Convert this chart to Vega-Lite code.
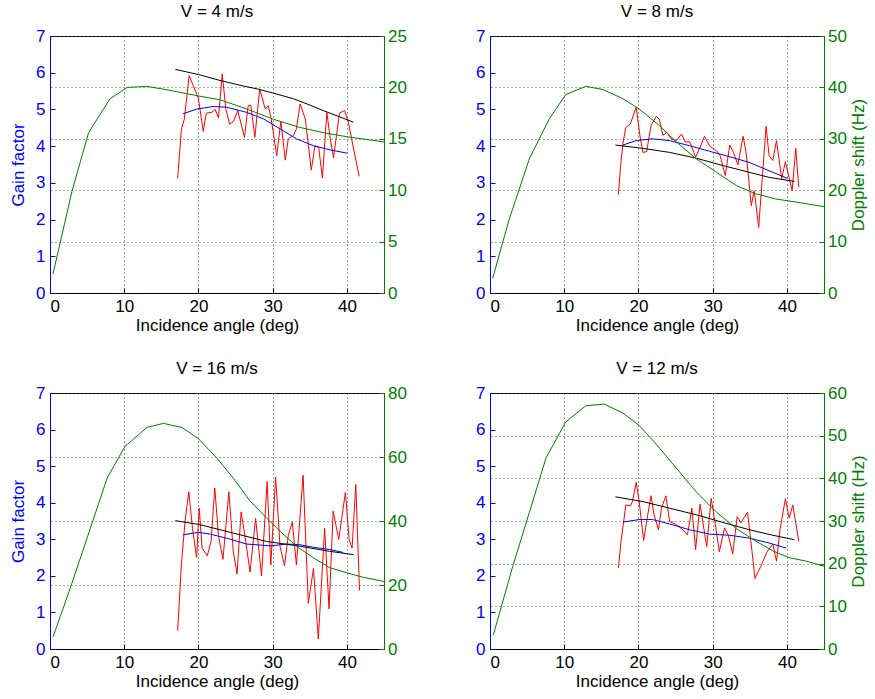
{
  "$schema": "https://vega.github.io/schema/vega-lite/v6.json",
  "padding": {"left": 9, "top": 2, "right": 5, "bottom": 5},
  "background": "white",
  "config": {
    "font": "Liberation Sans",
    "view": {"stroke": "#000000", "strokeWidth": 1},
    "axis": {"labelFontSize": 17, "titleFontSize": 17, "titleFontWeight": "normal", "labelFont": "Liberation Sans", "titleFont": "Liberation Sans"},
    "title": {"fontSize": 17, "fontWeight": "normal", "font": "Liberation Sans", "color": "#000000", "offset": 6}
  },
  "datasets": {
    "p1": [
      {"s":"meas","a":17.2,"v":3.12},{"s":"meas","a":17.7,"v":4.45},{"s":"meas","a":18.1,"v":4.74},{"s":"meas","a":18.75,"v":5.92},{"s":"meas","a":19.6,"v":5.5},{"s":"meas","a":20.0,"v":5.29},{"s":"meas","a":20.65,"v":4.4},{"s":"meas","a":21.05,"v":4.9},{"s":"meas","a":21.8,"v":4.92},{"s":"meas","a":22.25,"v":5.0},{"s":"meas","a":22.7,"v":4.77},{"s":"meas","a":23.2,"v":5.97},{"s":"meas","a":23.7,"v":5.0},{"s":"meas","a":24.2,"v":4.6},{"s":"meas","a":24.7,"v":4.67},{"s":"meas","a":25.3,"v":4.97},{"s":"meas","a":26.2,"v":4.24},{"s":"meas","a":26.7,"v":5.1},{"s":"meas","a":27.05,"v":5.12},{"s":"meas","a":27.6,"v":4.24},{"s":"meas","a":28.25,"v":5.56},{"s":"meas","a":29.0,"v":5.01},{"s":"meas","a":29.4,"v":5.1},{"s":"meas","a":29.8,"v":4.75},{"s":"meas","a":30.55,"v":3.74},{"s":"meas","a":31.1,"v":4.68},{"s":"meas","a":31.7,"v":3.62},{"s":"meas","a":32.1,"v":4.2},{"s":"meas","a":32.8,"v":4.29},{"s":"meas","a":33.2,"v":4.47},{"s":"meas","a":33.7,"v":5.15},{"s":"meas","a":34.4,"v":4.74},{"s":"meas","a":35.2,"v":3.35},{"s":"meas","a":35.7,"v":4.01},{"s":"meas","a":36.2,"v":3.97},{"s":"meas","a":36.7,"v":3.13},{"s":"meas","a":37.3,"v":4.92},{"s":"meas","a":37.7,"v":4.29},{"s":"meas","a":38.2,"v":3.68},{"s":"meas","a":39.0,"v":4.9},{"s":"meas","a":39.7,"v":4.97},{"s":"meas","a":40.2,"v":4.65},{"s":"meas","a":40.6,"v":4.24},{"s":"meas","a":41.65,"v":3.18},
      {"s":"smooth","a":17.9,"v":4.88},{"s":"smooth","a":19.8,"v":5.01},{"s":"smooth","a":22.0,"v":5.08},{"s":"smooth","a":23.8,"v":5.06},{"s":"smooth","a":26.5,"v":4.92},{"s":"smooth","a":28.8,"v":4.74},{"s":"smooth","a":31.0,"v":4.47},{"s":"smooth","a":33.2,"v":4.2},{"s":"smooth","a":35.5,"v":4.01},{"s":"smooth","a":37.7,"v":3.9},{"s":"smooth","a":40.0,"v":3.81},
      {"s":"fit","a":16.9,"v":6.09},{"s":"fit","a":20.0,"v":5.95},{"s":"fit","a":22.9,"v":5.79},{"s":"fit","a":26.0,"v":5.64},{"s":"fit","a":27.9,"v":5.56},{"s":"fit","a":30.0,"v":5.45},{"s":"fit","a":32.8,"v":5.29},{"s":"fit","a":35.0,"v":5.12},{"s":"fit","a":36.8,"v":4.97},{"s":"fit","a":39.0,"v":4.8},{"s":"fit","a":40.9,"v":4.65},
      {"s":"doppler","a":0.4,"v":1.85},{"s":"doppler","a":3.0,"v":10.0},{"s":"doppler","a":5.2,"v":15.6},{"s":"doppler","a":8.1,"v":18.9},{"s":"doppler","a":10.4,"v":20.0},{"s":"doppler","a":13.05,"v":20.1},{"s":"doppler","a":15.5,"v":19.8},{"s":"doppler","a":18.4,"v":19.4},{"s":"doppler","a":20.5,"v":19.1},{"s":"doppler","a":22.9,"v":18.8},{"s":"doppler","a":26.5,"v":17.9},{"s":"doppler","a":30.1,"v":16.9},{"s":"doppler","a":33.7,"v":16.1},{"s":"doppler","a":36.8,"v":15.6},{"s":"doppler","a":40.0,"v":15.2},{"s":"doppler","a":45.0,"v":14.7}
    ],
    "p2": [
      {"s":"meas","a":17.3,"v":2.68},{"s":"meas","a":17.6,"v":3.47},{"s":"meas","a":17.9,"v":4.06},{"s":"meas","a":18.3,"v":4.51},{"s":"meas","a":18.9,"v":4.6},{"s":"meas","a":19.7,"v":5.06},{"s":"meas","a":20.2,"v":4.29},{"s":"meas","a":20.6,"v":3.83},{"s":"meas","a":21.1,"v":3.85},{"s":"meas","a":21.7,"v":4.56},{"s":"meas","a":22.4,"v":4.81},{"s":"meas","a":22.8,"v":4.74},{"s":"meas","a":23.3,"v":4.29},{"s":"meas","a":23.8,"v":4.38},{"s":"meas","a":24.4,"v":4.2},{"s":"meas","a":25.1,"v":4.15},{"s":"meas","a":25.8,"v":4.33},{"s":"meas","a":26.3,"v":4.11},{"s":"meas","a":26.9,"v":4.12},{"s":"meas","a":27.7,"v":3.7},{"s":"meas","a":28.2,"v":3.92},{"s":"meas","a":28.9,"v":4.27},{"s":"meas","a":29.6,"v":4.0},{"s":"meas","a":30.5,"v":3.88},{"s":"meas","a":31.0,"v":3.74},{"s":"meas","a":31.7,"v":3.2},{"s":"meas","a":32.3,"v":4.03},{"s":"meas","a":32.8,"v":3.83},{"s":"meas","a":33.4,"v":3.49},{"s":"meas","a":34.1,"v":4.27},{"s":"meas","a":34.5,"v":3.83},{"s":"meas","a":35.2,"v":2.38},{"s":"meas","a":35.6,"v":2.79},{"s":"meas","a":36.2,"v":1.79},{"s":"meas","a":37.2,"v":4.54},{"s":"meas","a":37.6,"v":3.74},{"s":"meas","a":38.1,"v":3.61},{"s":"meas","a":38.6,"v":4.15},{"s":"meas","a":39.3,"v":3.11},{"s":"meas","a":39.8,"v":3.58},{"s":"meas","a":40.7,"v":2.79},{"s":"meas","a":41.2,"v":3.94},{"s":"meas","a":41.6,"v":2.88},
      {"s":"smooth","a":17.9,"v":4.03},{"s":"smooth","a":19.7,"v":4.15},{"s":"smooth","a":21.9,"v":4.2},{"s":"smooth","a":24.2,"v":4.15},{"s":"smooth","a":26.9,"v":4.01},{"s":"smooth","a":29.6,"v":3.86},{"s":"smooth","a":32.3,"v":3.71},{"s":"smooth","a":34.9,"v":3.56},{"s":"smooth","a":37.6,"v":3.33},{"s":"smooth","a":40.1,"v":3.12},
      {"s":"fit","a":16.9,"v":4.03},{"s":"fit","a":20.6,"v":3.94},{"s":"fit","a":24.2,"v":3.83},{"s":"fit","a":27.8,"v":3.67},{"s":"fit","a":31.4,"v":3.47},{"s":"fit","a":34.9,"v":3.29},{"s":"fit","a":37.6,"v":3.15},{"s":"fit","a":41.0,"v":3.04},
      {"s":"doppler","a":0.36,"v":2.86},{"s":"doppler","a":2.6,"v":14.4},{"s":"doppler","a":5.3,"v":26.1},{"s":"doppler","a":8.0,"v":33.9},{"s":"doppler","a":10.2,"v":38.6},{"s":"doppler","a":12.9,"v":40.2},{"s":"doppler","a":15.2,"v":39.6},{"s":"doppler","a":17.9,"v":37.8},{"s":"doppler","a":20.1,"v":35.8},{"s":"doppler","a":22.8,"v":32.6},{"s":"doppler","a":25.1,"v":29.4},{"s":"doppler","a":27.8,"v":26.1},{"s":"doppler","a":30.5,"v":23.5},{"s":"doppler","a":33.2,"v":20.9},{"s":"doppler","a":35.8,"v":19.3},{"s":"doppler","a":38.5,"v":18.3},{"s":"doppler","a":41.2,"v":17.7},{"s":"doppler","a":45.0,"v":16.8}
    ],
    "p3": [
      {"s":"meas","a":17.2,"v":0.5},{"s":"meas","a":17.7,"v":2.3},{"s":"meas","a":18.2,"v":3.5},{"s":"meas","a":18.7,"v":4.3},{"s":"meas","a":19.2,"v":3.3},{"s":"meas","a":19.75,"v":2.5},{"s":"meas","a":20.1,"v":3.85},{"s":"meas","a":20.5,"v":2.75},{"s":"meas","a":21.2,"v":2.55},{"s":"meas","a":21.7,"v":2.95},{"s":"meas","a":22.2,"v":4.4},{"s":"meas","a":22.7,"v":3.1},{"s":"meas","a":23.3,"v":2.45},{"s":"meas","a":24.1,"v":4.3},{"s":"meas","a":24.7,"v":2.65},{"s":"meas","a":25.2,"v":2.05},{"s":"meas","a":25.75,"v":3.75},{"s":"meas","a":26.3,"v":3.05},{"s":"meas","a":26.95,"v":2.1},{"s":"meas","a":27.7,"v":3.57},{"s":"meas","a":28.5,"v":2.0},{"s":"meas","a":29.25,"v":4.58},{"s":"meas","a":29.75,"v":2.3},{"s":"meas","a":30.4,"v":4.7},{"s":"meas","a":31.0,"v":2.8},{"s":"meas","a":31.6,"v":2.28},{"s":"meas","a":32.1,"v":3.1},{"s":"meas","a":32.65,"v":3.47},{"s":"meas","a":33.2,"v":2.3},{"s":"meas","a":34.1,"v":4.75},{"s":"meas","a":34.8,"v":1.25},{"s":"meas","a":35.5,"v":2.2},{"s":"meas","a":36.15,"v":0.27},{"s":"meas","a":37.0,"v":3.3},{"s":"meas","a":37.6,"v":1.1},{"s":"meas","a":38.15,"v":3.77},{"s":"meas","a":38.9,"v":3.0},{"s":"meas","a":39.8,"v":4.28},{"s":"meas","a":40.3,"v":3.0},{"s":"meas","a":40.7,"v":2.76},{"s":"meas","a":41.2,"v":4.5},{"s":"meas","a":41.7,"v":1.6},
      {"s":"smooth","a":17.9,"v":3.12},{"s":"smooth","a":20.0,"v":3.19},{"s":"smooth","a":21.6,"v":3.14},{"s":"smooth","a":23.8,"v":3.03},{"s":"smooth","a":26.5,"v":2.87},{"s":"smooth","a":29.7,"v":2.82},{"s":"smooth","a":31.9,"v":2.87},{"s":"smooth","a":33.7,"v":2.85},{"s":"smooth","a":35.5,"v":2.78},{"s":"smooth","a":37.7,"v":2.72},{"s":"smooth","a":39.5,"v":2.64},
      {"s":"fit","a":16.9,"v":3.51},{"s":"fit","a":20.2,"v":3.4},{"s":"fit","a":24.7,"v":3.17},{"s":"fit","a":29.2,"v":2.94},{"s":"fit","a":33.7,"v":2.81},{"s":"fit","a":37.7,"v":2.67},{"s":"fit","a":40.9,"v":2.58},
      {"s":"doppler","a":0.4,"v":3.7},{"s":"doppler","a":2.74,"v":19.1},{"s":"doppler","a":5.0,"v":34.7},{"s":"doppler","a":7.7,"v":53.4},{"s":"doppler","a":10.1,"v":63.3},{"s":"doppler","a":13.1,"v":69.3},{"s":"doppler","a":15.3,"v":70.5},{"s":"doppler","a":17.8,"v":69.2},{"s":"doppler","a":20.0,"v":65.7},{"s":"doppler","a":22.5,"v":59.6},{"s":"doppler","a":24.7,"v":53.4},{"s":"doppler","a":27.0,"v":46.1},{"s":"doppler","a":29.2,"v":40.9},{"s":"doppler","a":31.0,"v":36.8},{"s":"doppler","a":33.2,"v":32.1},{"s":"doppler","a":35.5,"v":28.5},{"s":"doppler","a":37.7,"v":25.4},{"s":"doppler","a":40.0,"v":23.8},{"s":"doppler","a":42.2,"v":22.4},{"s":"doppler","a":45.0,"v":21.1}
    ],
    "p4": [
      {"s":"meas","a":17.3,"v":2.22},{"s":"meas","a":17.65,"v":2.94},{"s":"meas","a":18.0,"v":3.47},{"s":"meas","a":18.3,"v":3.94},{"s":"meas","a":18.9,"v":3.91},{"s":"meas","a":19.2,"v":4.03},{"s":"meas","a":19.7,"v":4.56},{"s":"meas","a":20.1,"v":4.03},{"s":"meas","a":20.7,"v":2.97},{"s":"meas","a":21.25,"v":3.67},{"s":"meas","a":21.7,"v":4.19},{"s":"meas","a":22.1,"v":3.67},{"s":"meas","a":22.7,"v":3.26},{"s":"meas","a":23.1,"v":3.85},{"s":"meas","a":23.7,"v":4.19},{"s":"meas","a":24.2,"v":3.49},{"s":"meas","a":25.1,"v":3.4},{"s":"meas","a":26.0,"v":3.26},{"s":"meas","a":26.6,"v":3.12},{"s":"meas","a":27.2,"v":3.85},{"s":"meas","a":27.7,"v":2.72},{"s":"meas","a":28.3,"v":3.96},{"s":"meas","a":29.2,"v":2.8},{"s":"meas","a":29.8,"v":4.12},{"s":"meas","a":30.2,"v":3.62},{"s":"meas","a":30.9,"v":2.66},{"s":"meas","a":31.6,"v":3.31},{"s":"meas","a":32.1,"v":3.11},{"s":"meas","a":32.7,"v":2.6},{"s":"meas","a":33.3,"v":3.62},{"s":"meas","a":33.8,"v":3.45},{"s":"meas","a":34.7,"v":3.74},{"s":"meas","a":35.3,"v":2.67},{"s":"meas","a":35.7,"v":1.93},{"s":"meas","a":36.6,"v":2.31},{"s":"meas","a":37.3,"v":2.65},{"s":"meas","a":38.1,"v":2.87},{"s":"meas","a":38.6,"v":2.4},{"s":"meas","a":39.1,"v":3.3},{"s":"meas","a":39.8,"v":4.11},{"s":"meas","a":40.3,"v":3.58},{"s":"meas","a":40.8,"v":3.94},{"s":"meas","a":41.6,"v":2.94},
      {"s":"smooth","a":17.9,"v":3.47},{"s":"smooth","a":20.1,"v":3.54},{"s":"smooth","a":21.9,"v":3.54},{"s":"smooth","a":24.2,"v":3.42},{"s":"smooth","a":26.9,"v":3.26},{"s":"smooth","a":29.6,"v":3.14},{"s":"smooth","a":32.3,"v":3.11},{"s":"smooth","a":34.95,"v":3.03},{"s":"smooth","a":37.6,"v":2.9},{"s":"smooth","a":39.9,"v":2.76},
      {"s":"fit","a":16.9,"v":4.16},{"s":"fit","a":20.6,"v":4.03},{"s":"fit","a":24.2,"v":3.85},{"s":"fit","a":27.8,"v":3.67},{"s":"fit","a":31.4,"v":3.46},{"s":"fit","a":34.95,"v":3.26},{"s":"fit","a":38.1,"v":3.11},{"s":"fit","a":41.0,"v":2.99},
      {"s":"doppler","a":0.45,"v":3.3},{"s":"doppler","a":3.05,"v":19.3},{"s":"doppler","a":5.3,"v":32.0},{"s":"doppler","a":7.55,"v":44.8},{"s":"doppler","a":10.2,"v":53.2},{"s":"doppler","a":12.9,"v":57.0},{"s":"doppler","a":15.4,"v":57.4},{"s":"doppler","a":17.9,"v":55.3},{"s":"doppler","a":20.1,"v":52.4},{"s":"doppler","a":22.4,"v":48.0},{"s":"doppler","a":25.1,"v":42.4},{"s":"doppler","a":27.8,"v":36.8},{"s":"doppler","a":30.5,"v":32.1},{"s":"doppler","a":33.2,"v":28.2},{"s":"doppler","a":35.8,"v":25.3},{"s":"doppler","a":38.1,"v":23.0},{"s":"doppler","a":40.3,"v":21.4},{"s":"doppler","a":42.6,"v":20.6},{"s":"doppler","a":45.0,"v":19.4}
    ]
  },
  "columns": 2,
  "spacing": {"row": 25, "column": 68},
  "concat": [
    {
      "width": 334, "height": 257,
      "title": {"text": "V = 4 m/s"},
      "data": {"name": "p1"},
      "encoding": {"x": {"field": "a", "type": "quantitative", "scale": {"domain": [0, 45], "nice": false, "zero": false}, "axis": {"values": [0, 10, 20, 30, 40], "title": "Incidence angle (deg)", "grid": true, "gridColor": "#000000", "gridDash": [1, 3], "gridOpacity": 0.8, "domainColor": "#000000", "tickColor": "#000000", "tickSize": -5, "labelPadding": 10.5, "titlePadding": 3, "labelColor": "#000000", "titleColor": "#000000"}}},
      "layer": [
        {"transform": [{"filter": "datum.s != 'doppler'"}], "mark": {"type": "line", "strokeWidth": 1},
         "encoding": {"y": {"field": "v", "type": "quantitative", "scale": {"domain": [0, 7], "nice": false}, "axis": {"values": [0,1,2,3,4,5,6,7], "title": "Gain factor", "titleColor": "#0000ff", "labelColor": "#0000ff", "domainColor": "#0000ff", "tickColor": "#0000ff", "tickSize": -5, "labelPadding": 10, "titlePadding": 8, "grid": false}},
          "color": {"field": "s", "type": "nominal", "scale": {"domain": ["meas", "smooth", "fit"], "range": ["#ff0000", "#0000ff", "#000000"]}, "legend": null}}},
        {"transform": [{"filter": "datum.s == 'doppler'"}], "mark": {"type": "line", "strokeWidth": 1, "color": "#008000"},
         "encoding": {"y": {"field": "v", "type": "quantitative", "scale": {"domain": [0, 25], "nice": false}, "axis": {"orient": "right", "values": [0,5,10,15,20,25], "title": null, "labelColor": "#008000", "domainColor": "#008000", "tickColor": "#008000", "tickSize": -5, "labelPadding": 8.5, "grid": true, "gridColor": "#008000", "gridDash": [1, 3], "gridOpacity": 0.9}}}}
      ],
      "resolve": {"scale": {"y": "independent"}}
    },
    {
      "width": 334, "height": 257,
      "title": {"text": "V = 8 m/s"},
      "data": {"name": "p2"},
      "encoding": {"x": {"field": "a", "type": "quantitative", "scale": {"domain": [0, 45], "nice": false, "zero": false}, "axis": {"values": [0, 10, 20, 30, 40], "title": "Incidence angle (deg)", "grid": true, "gridColor": "#000000", "gridDash": [1, 3], "gridOpacity": 0.8, "domainColor": "#000000", "tickColor": "#000000", "tickSize": -5, "labelPadding": 10.5, "titlePadding": 3, "labelColor": "#000000", "titleColor": "#000000"}}},
      "layer": [
        {"transform": [{"filter": "datum.s != 'doppler'"}], "mark": {"type": "line", "strokeWidth": 1},
         "encoding": {"y": {"field": "v", "type": "quantitative", "scale": {"domain": [0, 7], "nice": false}, "axis": {"values": [0,1,2,3,4,5,6,7], "title": null, "labelColor": "#0000ff", "domainColor": "#0000ff", "tickColor": "#0000ff", "tickSize": -5, "labelPadding": 10, "grid": false}},
          "color": {"field": "s", "type": "nominal", "scale": {"domain": ["meas", "smooth", "fit"], "range": ["#ff0000", "#0000ff", "#000000"]}, "legend": null}}},
        {"transform": [{"filter": "datum.s == 'doppler'"}], "mark": {"type": "line", "strokeWidth": 1, "color": "#008000"},
         "encoding": {"y": {"field": "v", "type": "quantitative", "scale": {"domain": [0, 50], "nice": false}, "axis": {"orient": "right", "values": [0,10,20,30,40,50], "title": "Doppler shift (Hz)", "titleAngle": 270, "titleColor": "#008000", "titlePadding": 21, "labelColor": "#008000", "domainColor": "#008000", "tickColor": "#008000", "tickSize": -5, "labelPadding": 8.5, "grid": true, "gridColor": "#008000", "gridDash": [1, 3], "gridOpacity": 0.9}}}}
      ],
      "resolve": {"scale": {"y": "independent"}}
    },
    {
      "width": 334, "height": 256,
      "title": {"text": "V = 16 m/s"},
      "data": {"name": "p3"},
      "encoding": {"x": {"field": "a", "type": "quantitative", "scale": {"domain": [0, 45], "nice": false, "zero": false}, "axis": {"values": [0, 10, 20, 30, 40], "title": "Incidence angle (deg)", "grid": true, "gridColor": "#000000", "gridDash": [1, 3], "gridOpacity": 0.8, "domainColor": "#000000", "tickColor": "#000000", "tickSize": -5, "labelPadding": 10.5, "titlePadding": 3, "labelColor": "#000000", "titleColor": "#000000"}}},
      "layer": [
        {"transform": [{"filter": "datum.s != 'doppler'"}], "mark": {"type": "line", "strokeWidth": 1},
         "encoding": {"y": {"field": "v", "type": "quantitative", "scale": {"domain": [0, 7], "nice": false}, "axis": {"values": [0,1,2,3,4,5,6,7], "title": "Gain factor", "titleColor": "#0000ff", "labelColor": "#0000ff", "domainColor": "#0000ff", "tickColor": "#0000ff", "tickSize": -5, "labelPadding": 10, "titlePadding": 8, "grid": false}},
          "color": {"field": "s", "type": "nominal", "scale": {"domain": ["meas", "smooth", "fit"], "range": ["#ff0000", "#0000ff", "#000000"]}, "legend": null}}},
        {"transform": [{"filter": "datum.s == 'doppler'"}], "mark": {"type": "line", "strokeWidth": 1, "color": "#008000"},
         "encoding": {"y": {"field": "v", "type": "quantitative", "scale": {"domain": [0, 80], "nice": false}, "axis": {"orient": "right", "values": [0,20,40,60,80], "title": null, "labelColor": "#008000", "domainColor": "#008000", "tickColor": "#008000", "tickSize": -5, "labelPadding": 8.5, "grid": true, "gridColor": "#008000", "gridDash": [1, 3], "gridOpacity": 0.9}}}}
      ],
      "resolve": {"scale": {"y": "independent"}}
    },
    {
      "width": 334, "height": 256,
      "title": {"text": "V = 12 m/s"},
      "data": {"name": "p4"},
      "encoding": {"x": {"field": "a", "type": "quantitative", "scale": {"domain": [0, 45], "nice": false, "zero": false}, "axis": {"values": [0, 10, 20, 30, 40], "title": "Incidence angle (deg)", "grid": true, "gridColor": "#000000", "gridDash": [1, 3], "gridOpacity": 0.8, "domainColor": "#000000", "tickColor": "#000000", "tickSize": -5, "labelPadding": 10.5, "titlePadding": 3, "labelColor": "#000000", "titleColor": "#000000"}}},
      "layer": [
        {"transform": [{"filter": "datum.s != 'doppler'"}], "mark": {"type": "line", "strokeWidth": 1},
         "encoding": {"y": {"field": "v", "type": "quantitative", "scale": {"domain": [0, 7], "nice": false}, "axis": {"values": [0,1,2,3,4,5,6,7], "title": null, "labelColor": "#0000ff", "domainColor": "#0000ff", "tickColor": "#0000ff", "tickSize": -5, "labelPadding": 10, "grid": false}},
          "color": {"field": "s", "type": "nominal", "scale": {"domain": ["meas", "smooth", "fit"], "range": ["#ff0000", "#0000ff", "#000000"]}, "legend": null}}},
        {"transform": [{"filter": "datum.s == 'doppler'"}], "mark": {"type": "line", "strokeWidth": 1, "color": "#008000"},
         "encoding": {"y": {"field": "v", "type": "quantitative", "scale": {"domain": [0, 60], "nice": false}, "axis": {"orient": "right", "values": [0,10,20,30,40,50,60], "title": "Doppler shift (Hz)", "titleAngle": 270, "titleColor": "#008000", "titlePadding": 21, "labelColor": "#008000", "domainColor": "#008000", "tickColor": "#008000", "tickSize": -5, "labelPadding": 8.5, "grid": true, "gridColor": "#008000", "gridDash": [1, 3], "gridOpacity": 0.9}}}}
      ],
      "resolve": {"scale": {"y": "independent"}}
    }
  ]
}
